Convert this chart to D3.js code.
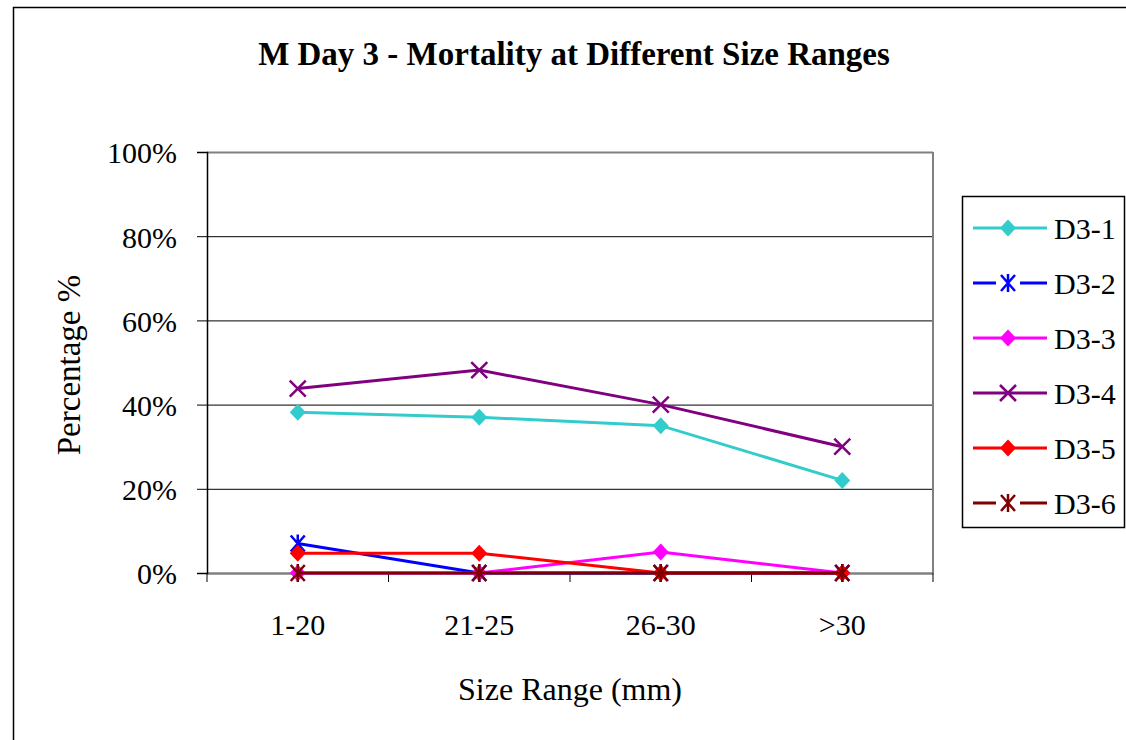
<!DOCTYPE html>
<html>
<head>
<meta charset="utf-8">
<script src="https://cdn.jsdelivr.net/npm/d3@7"></script>
<style>
  body { margin: 0; background: #fff; }
  text { font-family: "Liberation Serif", "Times New Roman", serif; fill: #000; }
</style>
</head>
<body>
<div id="container"></div>
<script>
var categories = ['1-20', '21-25', '26-30', '>30'];
var seriesNames = ['D3-1', 'D3-2', 'D3-3', 'D3-4', 'D3-5', 'D3-6'];
var d31 = [38.2, 37.0, 35.0, 22.0];
var d32 = [7.0, 0, 0, 0];
var d33 = [0, 0, 5.0, 0];
var d34 = [43.8, 48.2, 40.0, 30.0];
var d35 = [4.7, 4.7, 0, 0];
var d36 = [0, 0, 0, 0];
var yTicks = [0, 20, 40, 60, 80, 100];

var colors = ['#33CCCC', '#0000FF', '#FF00FF', '#800080', '#FF0000', '#800000'];
var markers = ['diamond', 'star', 'diamond', 'cross', 'diamond', 'star'];
var values = [d31, d32, d33, d34, d35, d36];

var margin = {top: 152, left: 207, right: 933, bottom: 573};

var svg = d3.select('#container')
  .append('svg')
  .attr('width', 1126)
  .attr('height', 740);

// outer chart border
svg.append('rect')
  .attr('x', 13.5).attr('y', 7.5)
  .attr('width', 1200).attr('height', 800)
  .attr('fill', 'none').attr('stroke', '#000').attr('stroke-width', 1.5);

var x = d3.scalePoint()
  .domain(categories)
  .range([margin.left, margin.right])
  .padding(0.5);

var xBand = d3.scaleBand()
  .domain(categories)
  .range([margin.left, margin.right]);

var y = d3.scaleLinear()
  .domain([0, 100])
  .range([margin.bottom, margin.top]);

// gridlines
svg.append('g')
  .selectAll('line')
  .data(yTicks.filter(d => d > 0))
  .join('line')
  .attr('x1', margin.left).attr('x2', margin.right)
  .attr('y1', d => y(d) + 0.5).attr('y2', d => y(d) + 0.5)
  .attr('stroke', d => d == 100 ? '#808080' : '#000')
  .attr('stroke-width', d => d == 100 ? 2 : 1);

// right border of plot area
svg.append('line')
  .attr('x1', margin.right).attr('x2', margin.right)
  .attr('y1', margin.top).attr('y2', margin.bottom)
  .attr('stroke', '#808080').attr('stroke-width', 2);

// x axis
var xAxis = svg.append('g')
  .attr('transform', 'translate(0,' + margin.bottom + ')')
  .call(d3.axisBottom(x).tickSize(0).tickFormat(''));
xAxis.select('.domain').attr('stroke', '#808080').attr('stroke-width', 2.5);
xAxis.selectAll('.tick').remove();

svg.append('g')
  .selectAll('line')
  .data(categories.map(c => xBand(c)).concat([margin.right]))
  .join('line')
  .attr('x1', d => d).attr('x2', d => d)
  .attr('y1', margin.bottom).attr('y2', margin.bottom + 9)
  .attr('stroke', '#000').attr('stroke-width', 1);

svg.append('g')
  .selectAll('text')
  .data(categories)
  .join('text')
  .attr('x', d => x(d))
  .attr('y', 635)
  .attr('text-anchor', 'middle')
  .style('font-size', '30px')
  .text(d => d);

// y axis
var yAxis = svg.append('g')
  .attr('transform', 'translate(' + margin.left + ',0)')
  .call(d3.axisLeft(y).tickValues(yTicks).tickSize(10).tickFormat(d => d + '%'));
yAxis.select('.domain').attr('stroke', '#000').attr('stroke-width', 1.5);
yAxis.selectAll('.tick line').attr('stroke', '#000');
yAxis.selectAll('.tick text')
  .attr('x', -30)
  .attr('dy', '0.36em')
  .style('font-size', '30px');

// titles
svg.append('text')
  .attr('x', 574).attr('y', 65)
  .attr('text-anchor', 'middle')
  .style('font-size', '33px')
  .style('font-weight', 'bold')
  .text('M Day 3 - Mortality at Different Size Ranges');

svg.append('text')
  .attr('x', 570).attr('y', 700)
  .attr('text-anchor', 'middle')
  .style('font-size', '32px')
  .text('Size Range (mm)');

svg.append('text')
  .attr('transform', 'translate(80,365) rotate(-90)')
  .attr('text-anchor', 'middle')
  .style('font-size', '33px')
  .text('Percentage %');

function drawMarker(g, type, color) {
  if (type == 'diamond') {
    g.append('path')
      .attr('d', 'M0,-8.5L8,0L0,8.5L-8,0Z')
      .attr('fill', color);
  } else if (type == 'cross') {
    g.append('path')
      .attr('d', 'M-8,-8L8,8M-8,8L8,-8')
      .attr('stroke', color).attr('stroke-width', 2.5).attr('fill', 'none');
  } else {
    g.append('path')
      .attr('d', 'M-7,-8L7,8M-7,8L7,-8M0,-9L0,9')
      .attr('stroke', color).attr('stroke-width', 2.5).attr('fill', 'none');
  }
}

var line = d3.line()
  .x((d, i) => x(categories[i]))
  .y(d => y(d));

values.forEach(function(vals, s) {
  var g = svg.append('g');
  g.append('path')
    .datum(vals)
    .attr('d', line)
    .attr('fill', 'none')
    .attr('stroke', colors[s])
    .attr('stroke-width', 3);
  g.selectAll('g.m')
    .data(vals)
    .join('g')
    .attr('class', 'm')
    .attr('transform', (d, i) => 'translate(' + x(categories[i]) + ',' + y(d) + ')')
    .each(function() { drawMarker(d3.select(this), markers[s], colors[s]); });
});

// legend
var legend = svg.append('g');
legend.append('rect')
  .attr('x', 962.5).attr('y', 196.5)
  .attr('width', 162).attr('height', 331)
  .attr('fill', '#fff').attr('stroke', '#000').attr('stroke-width', 1.5);

var items = legend.selectAll('g.item')
  .data(seriesNames)
  .join('g')
  .attr('class', 'item')
  .attr('transform', (d, i) => 'translate(0,' + (228 + i * 55) + ')');

items.append('line')
  .attr('x1', 973).attr('x2', 1047)
  .attr('y1', 0).attr('y2', 0)
  .attr('stroke', (d, i) => colors[i])
  .attr('stroke-width', 3);

items.each(function(d, i) {
  var m = d3.select(this).append('g').attr('transform', 'translate(1008,0)');
  if (markers[i] == 'star') {
    m.append('rect').attr('x', -12).attr('y', -3).attr('width', 24).attr('height', 6).attr('fill', '#fff');
  }
  drawMarker(m, markers[i], colors[i]);
});

items.append('text')
  .attr('x', 1054)
  .attr('y', 0)
  .attr('dy', '0.35em')
  .style('font-size', '30px')
  .text(d => d);
</script>
</body>
</html>
